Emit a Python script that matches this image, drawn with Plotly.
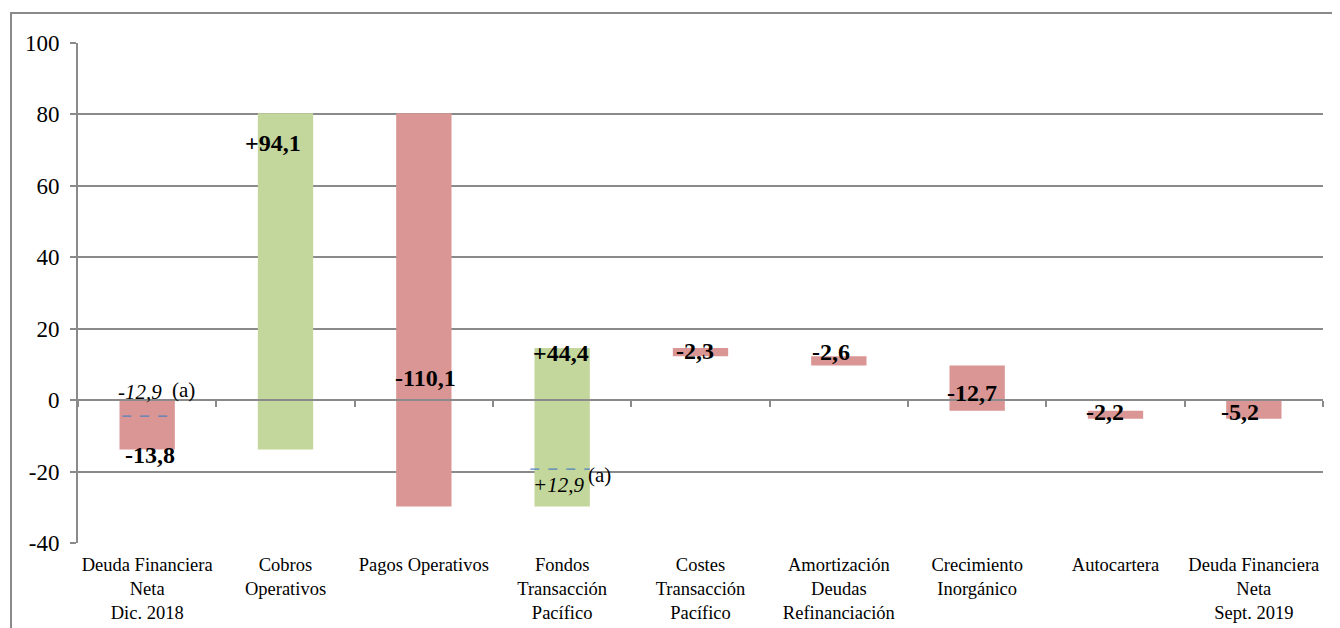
import numpy as np
import plotly.graph_objects as go

# ---------------- data ----------------
categories = [
    "Deuda Financiera<br>Neta<br>Dic. 2018",
    "Cobros<br>Operativos",
    "Pagos Operativos",
    "Fondos<br>Transacción<br>Pacífico",
    "Costes<br>Transacción<br>Pacífico",
    "Amortización<br>Deudas<br>Refinanciación",
    "Crecimiento<br>Inorgánico",
    "Autocartera",
    "Deuda Financiera<br>Neta<br>Sept. 2019",
]
changes = [-13.8, 94.1, -110.1, 44.4, -2.3, -2.6, -12.7, -2.2]   # first is opening level
closing = -5.2
value_labels = ["-13,8", "+94,1", "-110,1", "+44,4", "-2,3", "-2,6", "-12,7", "-2,2", "-5,2"]
y_ticks = [-40, -20, 0, 20, 40, 60, 80, 100]

# annotation "(a)" notes: category index, level of dashed line, text
note_cats = [0, 3]
note_levels = [-4.5, -19.3]
note_texts = ["-12,9", "+12,9"]

# ---------------- derived bars ----------------
vals = changes + [closing]
cum = np.cumsum(changes)
bases = [0.0] + list(cum[:-1]) + [0.0]
tops = [max(b, b + v) for b, v in zip(bases, vals)]

RED = "#D99694"
GREEN = "#C3D69B"
GRID = "#8A8A8A"
FONT = "Liberation Serif, Times New Roman, DejaVu Serif, serif"
colors = [GREEN if (0 < i < len(vals) - 1 and v > 0) else RED for i, v in enumerate(vals)]

fig = go.Figure()
fig.add_trace(go.Bar(
    x=categories, y=vals, base=bases, marker=dict(color=colors, line=dict(width=0)),
    width=0.4, hoverinfo="skip", showlegend=False,
))
# helper trace so the zero-crossing category axis is drawn
fig.add_trace(go.Scatter(
    x=categories, y=[0] * len(categories), xaxis="x2", mode="markers",
    marker=dict(opacity=0), hoverinfo="skip", showlegend=False,
))

# value labels: pixel offsets from the top of each bar
label_dx = [3, -12.5, 1.5, -1.5, -5.6, -7.4, -4.7, -10.5, -14]
label_dy = [55, 30, 265, 5, 2.7, -4.5, 27.8, 0.9, 11.6]
for i, t in enumerate(value_labels):
    fig.add_annotation(
        x=categories[i], y=tops[i], text="<b>%s</b>" % t, showarrow=False,
        xanchor="center", yanchor="middle", xshift=label_dx[i], yshift=-label_dy[i],
        font=dict(family=FONT, size=24, color="black"),
    )

# dashed reference lines and "(a)" notes
note_dx = [-7, -4]
note_dy = [-24, 16]
a_dx = [36, 37]
a_dy = [-26, 6]
for k, ci in enumerate(note_cats):
    x0 = ci - 0.2 - (0.03 if k == 1 else -0.02)
    fig.add_shape(type="line", xref="x", yref="y", x0=x0, x1=ci + 0.2,
                  y0=note_levels[k], y1=note_levels[k],
                  line=dict(color="#4F81BD", width=1.3, dash="dash"))
    fig.add_annotation(
        x=categories[ci], y=note_levels[k], text="<i>%s</i>" % note_texts[k], showarrow=False,
        xanchor="center", yanchor="middle", xshift=note_dx[k], yshift=-note_dy[k],
        font=dict(family=FONT, size=21, color="black"),
    )
    fig.add_annotation(
        x=categories[ci], y=note_levels[k], text="(a)", showarrow=False,
        xanchor="center", yanchor="middle", xshift=a_dx[k], yshift=-a_dy[k],
        font=dict(family=FONT, size=21, color="black"),
    )

# outer frame (chart area border)
fig.add_shape(type="rect", xref="paper", yref="paper",
              x0=-67 / 1245, x1=1.03, y0=-0.2, y1=1 + 30 / 500,
              line=dict(color=GRID, width=2), fillcolor="rgba(0,0,0,0)", layer="below")

y_range = [-40, 100]
zero_pos = (0 - y_range[0]) / (y_range[1] - y_range[0])

fig.update_layout(
    width=1340, height=628,
    margin=dict(l=70, r=25, t=35, b=93),
    paper_bgcolor="white", plot_bgcolor="white",
    font=dict(family=FONT, color="black"),
    bargap=0.6,
    xaxis=dict(
        type="category", range=[-0.5, len(categories) - 0.5],
        showgrid=False, showline=False, zeroline=False, ticks="",
        tickfont=dict(family=FONT, size=18.5, color="black"),
        ticklabelstandoff=8,
    ),
    xaxis2=dict(
        type="category", overlaying="x", anchor="free", position=zero_pos, side="bottom",
        range=[-0.5, len(categories) - 0.5],
        showgrid=False, zeroline=False, showline=True, linecolor=GRID, linewidth=2,
        ticks="outside", tickson="boundaries", ticklen=6, tickwidth=2, tickcolor=GRID,
        showticklabels=False,
    ),
    yaxis=dict(
        range=y_range, tickvals=y_ticks, ticktext=[str(v) for v in y_ticks],
        showgrid=True, gridcolor=GRID, gridwidth=2,
        showline=True, linecolor=GRID, linewidth=2,
        ticks="outside", ticklen=6, tickwidth=2, tickcolor=GRID,
        zeroline=False,
        tickfont=dict(family=FONT, size=23, color="black"),
        ticklabelstandoff=6,
    ),
)

fig.write_html("out.html")
